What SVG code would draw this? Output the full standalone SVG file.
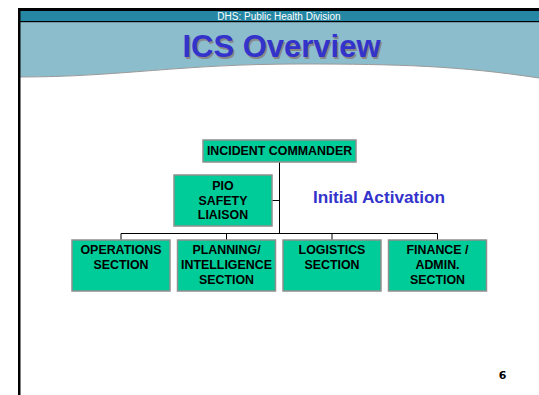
<svg xmlns="http://www.w3.org/2000/svg" width="539" height="395" viewBox="0 0 539 395">
  <style>
    .box { fill: #00CC99; stroke: #8f8f8f; stroke-width: 1.5; }
    .lbl { font-family: "Liberation Sans", Arial, sans-serif; font-weight: bold; font-size: 12.4px; fill: #000; text-anchor: middle; }
    .conn { stroke: #000; stroke-width: 1; fill: none; }
  </style>
  <rect x="0" y="0" width="539" height="395" fill="#ffffff"/>
  <g id="header">
    <path d="M20,22 L539,22 L539,78 C460,66 400,64 300,64 C180,64 120,77 20,77 Z" fill="#8CBDCC"/>
    <path d="M20,77 C120,77 180,64 300,64 C400,64 460,66 539,78" fill="none" stroke="#9a9a9a" stroke-width="1"/>
    <rect x="18" y="11" width="521" height="10" fill="#2587A3"/>
    <rect x="18" y="8" width="521" height="3" fill="#000"/>
    <rect x="18" y="21" width="521" height="1.2" fill="#000"/>
    <rect x="18" y="8" width="2.5" height="387" fill="#000"/>
    <text x="279" y="19.5" font-family="'Liberation Sans', Arial, sans-serif" font-size="10" fill="#ffffff" text-anchor="middle">DHS: Public Health Division</text>
    <text x="283" y="58.5" font-family="'Liberation Sans', Arial, sans-serif" font-size="31" font-weight="bold" fill="#888888" text-anchor="middle">ICS Overview</text>
    <text x="281.5" y="57.3" font-family="'Liberation Sans', Arial, sans-serif" font-size="31" font-weight="bold" fill="#3333CC" text-anchor="middle">ICS Overview</text>
  </g>
  <g id="connectors">
    <line class="conn" x1="279.5" y1="162" x2="279.5" y2="233.5"/>
    <line class="conn" x1="272" y1="200.5" x2="279.5" y2="200.5"/>
    <line class="conn" x1="121" y1="233.5" x2="437.5" y2="233.5"/>
    <line class="conn" x1="121" y1="233.5" x2="121" y2="240"/>
    <line class="conn" x1="226.5" y1="233.5" x2="226.5" y2="240"/>
    <line class="conn" x1="332" y1="233.5" x2="332" y2="240"/>
    <line class="conn" x1="437.5" y1="233.5" x2="437.5" y2="240"/>
  </g>
  <g id="commander">
    <rect class="box" x="203" y="140" width="153" height="22"/>
    <text class="lbl" x="279.5" y="155.3">INCIDENT COMMANDER</text>
  </g>
  <g id="command-staff">
    <rect class="box" x="174" y="175" width="98" height="51"/>
    <text class="lbl" x="223" y="190">PIO</text>
    <text class="lbl" x="223" y="204.5">SAFETY</text>
    <text class="lbl" x="223" y="219">LIAISON</text>
  </g>
  <g id="operations">
    <rect class="box" x="72" y="240" width="98" height="51"/>
    <text class="lbl" x="121" y="254">OPERATIONS</text>
    <text class="lbl" x="121" y="269">SECTION</text>
  </g>
  <g id="planning">
    <rect class="box" x="177.5" y="240" width="98" height="51"/>
    <text class="lbl" x="226.5" y="254">PLANNING/</text>
    <text class="lbl" x="226.5" y="269">INTELLIGENCE</text>
    <text class="lbl" x="226.5" y="284">SECTION</text>
  </g>
  <g id="logistics">
    <rect class="box" x="283" y="240" width="98" height="51"/>
    <text class="lbl" x="332" y="254">LOGISTICS</text>
    <text class="lbl" x="332" y="269">SECTION</text>
  </g>
  <g id="finance">
    <rect class="box" x="388.5" y="240" width="98" height="51"/>
    <text class="lbl" x="437.5" y="254">FINANCE /</text>
    <text class="lbl" x="437.5" y="269">ADMIN.</text>
    <text class="lbl" x="437.5" y="284">SECTION</text>
  </g>
  <text x="379" y="202.7" font-family="'Liberation Sans', Arial, sans-serif" font-size="17.2" font-weight="bold" fill="#3333CC" text-anchor="middle">Initial Activation</text>
  <text x="502.5" y="379" font-family="'DejaVu Sans', Verdana, sans-serif" font-size="11" font-weight="bold" fill="#000" text-anchor="middle">6</text>
</svg>
